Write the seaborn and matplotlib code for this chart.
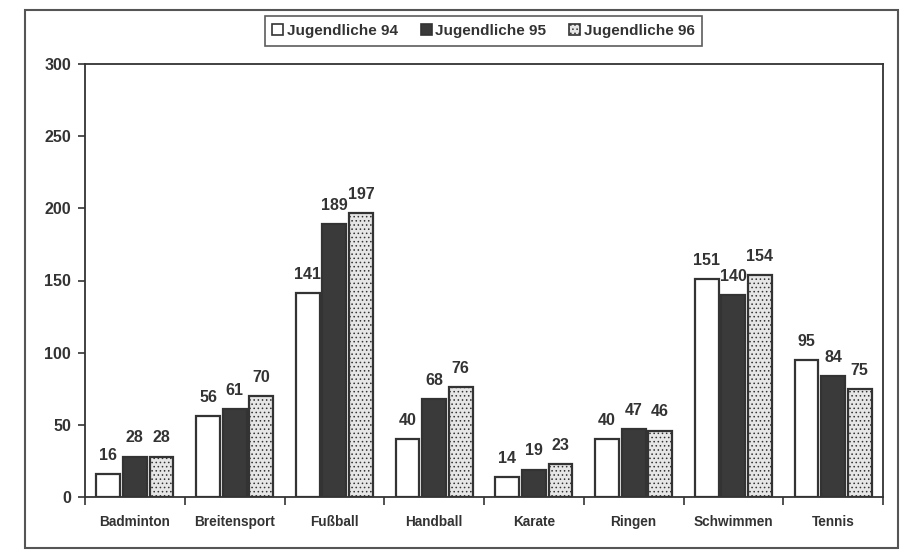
import matplotlib
matplotlib.use("Agg")
import matplotlib.pyplot as plt
from matplotlib.patches import Rectangle
from matplotlib.ticker import FixedLocator
import seaborn as sns
import pandas as pd

categories = ["Badminton", "Breitensport", "Fußball", "Handball", "Karate",
              "Ringen", "Schwimmen", "Tennis"]
series_names = ["Jugendliche 94", "Jugendliche 95", "Jugendliche 96"]
values_94 = [16, 56, 141, 40, 14, 40, 151, 95]
values_95 = [28, 61, 189, 68, 19, 47, 140, 84]
values_96 = [28, 70, 197, 76, 23, 46, 154, 75]
y_ticks = [0, 50, 100, 150, 200, 250, 300]

rows = []
for name, vals in zip(series_names, [values_94, values_95, values_96]):
    for c, v in zip(categories, vals):
        rows.append({"Sportart": c, "Anzahl": v, "Jahr": name})
df = pd.DataFrame(rows)

sns.set_style("white")
plt.rcParams["font.family"] = ["Liberation Sans", "DejaVu Sans"]
plt.rcParams["font.weight"] = "bold"
plt.rcParams["hatch.linewidth"] = 0.6
plt.rcParams["hatch.color"] = "#666666"

ink = "#333333"
fig = plt.figure(figsize=(9.11, 5.5), dpi=100)
ax = fig.add_axes([85/911, 53/550, (883-85)/911, (497-64)/550])

palette = ["#ffffff", "#3a3a3a", "#e6e6e6"]
sns.barplot(data=df, x="Sportart", y="Anzahl", hue="Jahr", palette=palette,
            width=0.8, gap=0.1, edgecolor=ink, linewidth=1.6, ax=ax,
            legend=True)

for p in ax.containers[2]:
    p.set_hatch("....")

for cont in ax.containers:
    ax.bar_label(cont, fmt="%d", padding=8, fontsize=11.5, color=ink,
                 fontweight="bold")

ax.set_xlim(-0.5, len(categories) - 0.5)
ax.set_ylim(0, 300)
ax.set_yticks(y_ticks)
ax.set_xlabel("")
ax.set_ylabel("")

ax.tick_params(axis="y", labelsize=11.5, labelcolor=ink, length=5, width=1.2,
               color=ink, direction="out", left=True, pad=5)
ax.tick_params(axis="x", which="major", labelsize=9.8, labelcolor=ink,
               length=0, pad=13)
ax.xaxis.set_minor_locator(FixedLocator([i - 0.5 for i in range(len(categories) + 1)]))
ax.tick_params(axis="x", which="minor", length=6, width=1.2, color=ink,
               direction="out", bottom=True)
for lbl in ax.get_xticklabels() + ax.get_yticklabels():
    lbl.set_fontweight("bold")

for s in ax.spines.values():
    s.set_visible(True)
    s.set_color(ink)
    s.set_linewidth(1.3)

handles, labels = ax.get_legend_handles_labels()
ax.get_legend().remove()
handles[2].set_hatch("....")
for h in handles:
    h.set_edgecolor(ink)
    h.set_linewidth(1.2)
leg = fig.legend(handles, labels, loc="center",
                 bbox_to_anchor=(483.5/911, 1 - 31/550), ncol=3,
                 prop={"size": 11, "weight": "bold"}, frameon=True,
                 fancybox=False,
                 handlelength=0.7, handleheight=0.7, handletextpad=0.25,
                 columnspacing=1.5, borderpad=0.5, labelcolor=ink)
leg.get_frame().set_edgecolor(ink)
leg.get_frame().set_linewidth(1.2)

fig.add_artist(Rectangle((25/911, 2/550), (898-25)/911, (548-10)/550,
                         transform=fig.transFigure, fill=False,
                         edgecolor="#555555", linewidth=1.5))

fig.savefig("out.png", dpi=100)
